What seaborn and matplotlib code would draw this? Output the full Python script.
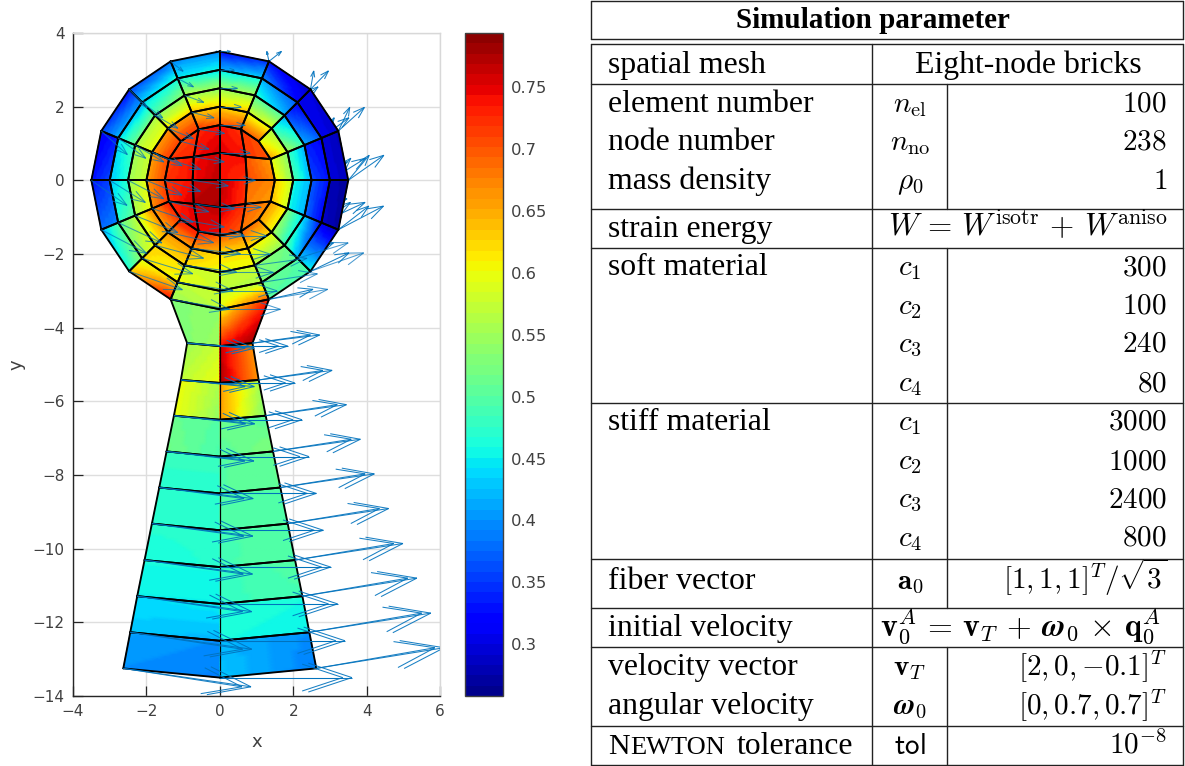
import numpy as np
import seaborn as sns
import matplotlib.pyplot as plt
from matplotlib.collections import LineCollection
from matplotlib.colors import ListedColormap, Normalize
from matplotlib.cm import ScalarMappable

# mesh outline
rim_x = [3.5, 3.23, 2.47, 1.34, 0, -1.34, -2.47, -3.23, -3.5, -3.23, -2.47, -1.34, 0, 1.34, 2.47, 3.23]
rim_y = [0, 1.34, 2.47, 3.23, 3.5, 3.23, 2.47, 1.34, 0, -1.34, -2.47, -3.23, -3.5, -3.23, -2.47, -1.34]
ring_radius = [1.5, 2, 2.5, 3, 3.5]
# E N W S NE NW SW SE
core_x = [0.74, 0, -0.74, 0, 0.70, -0.71, -0.71, 0.70]
core_y = [0, 0.75, 0, -0.73, 0.64, 0.64, -0.64, -0.64]
neck_left_x = [-0.89, -1.06, -1.25, -1.45, -1.65, -1.85, -2.05, -2.25, -2.44, -2.63]
neck_right_x = [0.89, 1.06, 1.25, 1.45, 1.65, 1.85, 2.05, 2.25, 2.44, 2.63]
neck_side_y = [-4.42, -5.42, -6.39, -7.36, -8.34, -9.32, -10.31, -11.29, -12.27, -13.25]
neck_mid_y = [-4.5, -5.5, -6.5, -7.5, -8.5, -9.5, -10.5, -11.5, -12.5, -13.5]

# node values per cell: inner k, inner k+1, outer k+1, outer k
ring0_vals = [(.62, .60, .54, .54), (.66, .60, .56, .58), (.70, .70, .60, .60), (.72, .70, .63, .62),
              (.70, .72, .63, .63), (.72, .72, .66, .66), (.71, .72, .66, .66), (.71, .71, .66, .66),
              (.71, .72, .67, .66), (.74, .72, .66, .66), (.74, .74, .66, .66), (.74, .70, .64, .66),
              (.70, .68, .63, .62), (.70, .68, .62, .62), (.66, .66, .60, .60), (.64, .63, .58, .58)]
ring1_vals = [(.50, .48, .42, .42), (.56, .47, .42, .48), (.60, .58, .50, .50), (.64, .62, .55, .55),
              (.63, .64, .56, .54), (.63, .62, .54, .54), (.60, .60, .56, .56), (.58, .58, .55, .55),
              (.60, .60, .56, .55), (.68, .66, .60, .57), (.66, .66, .62, .62), (.64, .62, .60, .62),
              (.62, .62, .60, .60), (.62, .60, .54, .56), (.56, .53, .44, .48), (.46, .46, .42, .42)]
ring2_vals = [(.36, .34, .32, .33), (.42, .36, .32, .37), (.42, .47, .42, .37), (.56, .55, .44, .46),
              (.56, .56, .47, .44), (.54, .50, .44, .46), (.52, .52, .44, .42), (.49, .47, .43, .44),
              (.47, .51, .47, .43), (.57, .60, .56, .50), (.62, .62, .60, .62), (.58, .58, .58, .60),
              (.58, .58, .56, .57), (.54, .52, .50, .53), (.50, .44, .33, .42), (.38, .37, .33, .32)]
ring3_vals = [(.30, .30, .28, .285), (.31, .31, .30, .29), (.32, .40, .33, .29), (.44, .42, .33, .35),
              (.46, .45, .40, .40), (.47, .44, .36, .38), (.41, .42, .36, .33), (.34, .36, .33, .31),
              (.36, .39, .38, .33), (.50, .54, .47, .42), (.59, .62, .74, .63), (.57, .58, .57, .55),
              (.58, .56, .70, .60), (.52, .50, .49, .50), (.43, .31, .28, .46), (.29, .28, .27, .27)]
# for each quadrant: middle, axis side, corner, next axis side
core_vals = [(.74, .72, .74, .74), (.71, .67, .66, .70), (.72, .70, .70, .72), (.75, .74, .72, .74),
             (.77, .76, .74, .74), (.76, .74, .73, .74), (.73, .72, .70, .72), (.74, .74, .71, .72),
             (.77, .76, .77, .78), (.74, .72, .72, .76), (.75, .72, .74, .75), (.77, .76, .75, .74),
             (.77, .76, .72, .72), (.76, .72, .70, .72), (.70, .68, .67, .67), (.69, .68, .66, .67)]
# neck rows: top outer, top middle, bottom middle, bottom outer
neck_left_vals = [(.53, .54, .55, .53), (.55, .58, .60, .57), (.60, .56, .54, .60), (.51, .50, .49, .52),
                  (.48, .48, .47, .47), (.47, .47, .47, .47), (.47, .47, .47, .46), (.46, .46, .45, .45),
                  (.44, .45, .42, .43), (.41, .40, .39, .40)]
neck_right_vals = [(.73, .60, .74, .78), (.66, .76, .78, .66), (.56, .66, .66, .53), (.50, .52, .50, .53),
                   (.51, .50, .50, .51), (.50, .50, .50, .50), (.50, .49, .49, .50), (.50, .48, .48, .49),
                   (.46, .47, .46, .45), (.40, .42, .43, .39)]

# arrow lengths at the nodes, one list per ring
ring_du = [[.97, .86, .76, .70, .68, .70, .76, .86, .97, 1.08, 1.18, 1.24, 1.26, 1.24, 1.18, 1.08],
           [.97, .82, .69, .61, .58, .61, .69, .82, .97, 1.12, 1.24, 1.33, 1.36, 1.33, 1.24, 1.12],
           [.97, .78, .62, .52, .48, .52, .62, .78, .97, 1.16, 1.32, 1.42, 1.46, 1.42, 1.32, 1.16],
           [.97, .75, .56, .43, .39, .43, .56, .75, .97, 1.19, 1.38, 1.51, 1.56, 1.51, 1.38, 1.19],
           [.97, .71, .49, .34, .29, .34, .49, .71, .97, 1.23, 1.45, 1.60, 1.65, 1.60, 1.45, 1.23]]
ring_dv = [[.30, .28, .21, .11, 0, -.11, -.21, -.28, -.30, -.28, -.21, -.11, 0, .11, .21, .28],
           [.40, .37, .28, .15, 0, -.15, -.28, -.37, -.40, -.37, -.28, -.15, 0, .15, .28, .37],
           [.50, .46, .35, .19, 0, -.19, -.35, -.46, -.50, -.46, -.35, -.19, 0, .19, .35, .46],
           [.60, .55, .42, .23, 0, -.23, -.42, -.55, -.60, -.55, -.42, -.23, 0, .23, .42, .55],
           [.68, .64, .50, .27, 0, -.27, -.50, -.64, -.68, -.64, -.50, -.27, 0, .27, .50, .64]]
core_du = [.97, .82, .97, 1.12, .83, .83, 1.11, 1.11]
core_dv = [.15, 0, -.15, 0, .14, -.14, -.14, .14]
centre_du, centre_dv = .97, 0
neck_side_du = [1.83, 2.0, 2.2, 2.38, 2.56, 2.75, 2.94, 3.12, 3.31, 3.48]
neck_mid_du = [1.85, 2.04, 2.24, 2.43, 2.63, 2.82, 3.02, 3.21, 3.41, 3.60]
neck_left_dv = [-.14, -.18, -.22, -.26, -.30, -.34, -.38, -.42, -.46, -.50]
neck_right_dv = [.22, .26, .30, .33, .37, .41, .45, .49, .52, .56]
head_layer_gap = 0.40
neck_layer_gap = 0.25

cbar_ticks = [0.3, 0.35, 0.4, 0.45, 0.5, 0.55, 0.6, 0.65, 0.7, 0.75]
cbar_labels = ['0.3', '0.35', '0.4', '0.45', '0.5', '0.55', '0.6', '0.65', '0.7', '0.75']
vmin, vmax = 0.258, 0.794

# table contents: label, symbol, value, baseline in pixels
table_rows = [
    ('spatial mesh', None, None, 73),
    ('element number', r'$n_{\mathrm{el}}$', '$100$', 112),
    ('node number', r'$n_{\mathrm{no}}$', '$238$', 150),
    ('mass density', r'$\rho_0$', '$1$', 189),
    ('strain energy', None, None, 237),
    ('soft material', '$c_1$', '$300$', 275),
    ('', '$c_2$', '$100$', 314),
    ('', '$c_3$', '$240$', 352),
    ('', '$c_4$', '$80$', 391),
    ('stiff material', '$c_1$', '$3000$', 430),
    ('', '$c_2$', '$1000$', 469),
    ('', '$c_3$', '$2400$', 507),
    ('', '$c_4$', '$800$', 546),
    ('fiber vector', r'$\mathbf{a}_0$', r'$[1,1,1]^T/\sqrt{3}$', 589),
    ('initial velocity', None, None, 636),
    ('velocity vector', r'$\mathbf{v}_T$', r'$[2,0,{-}0.1]^T$', 675),
    ('angular velocity', r'$\boldsymbol{\omega}_0$', r'$[0,0.7,0.7]^T$', 714),
]
merged_cells = [('Eight-node bricks', 1028, 73, 22.9),
                (r'$W\,=\,W^{\mathrm{isotr}}\,+\,W^{\mathrm{aniso}}$', 1028, 237, 22.5),
                (r'$\mathbf{v}_0^A\,=\,\mathbf{v}_T\,+\,\boldsymbol{\omega}_0\,\times\,\mathbf{q}_0^A$', 1021, 636, 23)]
rule_y = [1, 39, 44, 84, 209, 248, 403, 559, 608, 647, 726, 765]
split_spans = [(84, 209), (248, 608), (647, 765)]

sns.set_theme(style='whitegrid')
plt.rcParams['font.family'] = ['DejaVu Sans']
plt.rcParams['mathtext.fontset'] = 'cm'
SERIF = ['Liberation Serif', 'DejaVu Serif']
TXT = '#404040'
jet64 = ListedColormap(sns.mpl_palette('jet', 64))
norm = Normalize(vmin, vmax)

fig = plt.figure(figsize=(11.85, 7.66), dpi=100, facecolor='white')
ax = fig.add_axes([73 / 1185, 70 / 766, 367 / 1185, 663 / 766])
cax = fig.add_axes([465 / 1185, 70 / 766, 38 / 1185, 663 / 766])
tab = fig.add_axes([0, 0, 1, 1])
tab.set_xlim(0, 1185)
tab.set_ylim(766, 0)
tab.axis('off')
tab.patch.set_alpha(0)


def draw_cell(xs, ys, vals, thin_edge=None):
    # bilinear patch so the colours run through the colormap, not straight RGB
    s, t = np.meshgrid(np.linspace(0, 1, 13), np.linspace(0, 1, 13))
    w = [(1 - s) * (1 - t), s * (1 - t), s * t, (1 - s) * t]
    X = sum(w[i] * xs[i] for i in range(4))
    Y = sum(w[i] * ys[i] for i in range(4))
    C = sum(w[i] * vals[i] for i in range(4))
    ax.pcolormesh(X, Y, C, shading='gouraud', cmap=jet64, norm=norm, zorder=2)
    for i in range(4):
        j = (i + 1) % 4
        lw = 0.8 if i == thin_edge else 1.35
        ax.plot([xs[i], xs[j]], [ys[i], ys[j]], color='black', lw=lw, zorder=2.5,
                solid_capstyle='round')


rx = [[x * r / 3.5 for x in rim_x] for r in ring_radius]
ry = [[y * r / 3.5 for y in rim_y] for r in ring_radius]

ring_vals = [ring0_vals, ring1_vals, ring2_vals, ring3_vals]
for r in range(4):
    for k in range(16):
        n = (k + 1) % 16
        draw_cell([rx[r][k], rx[r][n], rx[r + 1][n], rx[r + 1][k]],
                  [ry[r][k], ry[r][n], ry[r + 1][n], ry[r + 1][k]], ring_vals[r][k])

for q in range(4):
    a0 = (core_x[q], core_y[q])
    a1 = (core_x[(q + 1) % 4], core_y[(q + 1) % 4])
    d = (core_x[4 + q], core_y[4 + q])
    ring_pts = [(rx[0][(4 * q + i) % 16], ry[0][(4 * q + i) % 16]) for i in range(5)]
    cells = [[(0, 0), a0, d, a1],
             [a0, ring_pts[0], ring_pts[1], d],
             [d, ring_pts[1], ring_pts[2], ring_pts[3]],
             [a1, d, ring_pts[3], ring_pts[4]]]
    for c, cell in enumerate(cells):
        draw_cell([p[0] for p in cell], [p[1] for p in cell], core_vals[4 * q + c])

top_left = (rim_x[11], rim_y[11])
top_mid = (rim_x[12], rim_y[12])
top_right = (rim_x[13], rim_y[13])
for i in range(10):
    bl = (neck_left_x[i], neck_side_y[i])
    bm = (0, neck_mid_y[i])
    br = (neck_right_x[i], neck_side_y[i])
    for cell, vals in (([top_left, top_mid, bm, bl], neck_left_vals[i]),
                       ([top_right, top_mid, bm, br], neck_right_vals[i])):
        draw_cell([p[0] for p in cell], [p[1] for p in cell], vals, thin_edge=1)
    top_left, top_mid, top_right = bl, bm, br

# arrow tails and lengths
tails = [(0, 0, centre_du, centre_dv, head_layer_gap, True)]
for r in range(5):
    for k in range(16):
        tails.append((rx[r][k], ry[r][k], ring_du[r][k], ring_dv[r][k], head_layer_gap, True))
for i in range(8):
    tails.append((core_x[i], core_y[i], core_du[i], core_dv[i], head_layer_gap, True))
for i in range(10):
    tails.append((neck_left_x[i], neck_side_y[i], neck_side_du[i], neck_left_dv[i], neck_layer_gap, False))
    tails.append((0, neck_mid_y[i], neck_mid_du[i], 0, neck_layer_gap, False))
    tails.append((neck_right_x[i], neck_side_y[i], neck_side_du[i], neck_right_dv[i], neck_layer_gap, False))

back, head_front, neck_front = [], [], []
for x, y, du, dv, gap, in_head in tails:
    for layer, u in enumerate((du, du - gap)):
        a, b = 0.33, 0.33
        tip = (x + u, y + dv)
        segs = [[(x, y), tip],
                [(x + u - a * (u + b * dv), y + dv - a * (dv - b * u)), tip],
                [(x + u - a * (u - b * dv), y + dv - a * (dv + b * u)), tip]]
        # the head hides the rear layer and its own upper right part
        if in_head and (layer == 1 or (x > 0 and y > -2)):
            back.extend(segs)
        elif in_head:
            head_front.extend(segs)
        else:
            neck_front.extend(segs)
ax.add_collection(LineCollection(back, colors='#0072BD', linewidths=0.75, alpha=0.9, zorder=1.5))
ax.add_collection(LineCollection(head_front, colors='#0072BD', linewidths=0.75, alpha=0.7, zorder=3))
ax.add_collection(LineCollection(neck_front, colors='#0072BD', linewidths=0.75, alpha=0.9, zorder=3))

ax.set_xlim(-4, 6)
ax.set_ylim(-14, 4)
ax.set_xticks(range(-4, 7, 2))
ax.set_yticks(range(-14, 5, 2))
ax.set_xlabel('x', fontsize=13, color=TXT, labelpad=10)
ax.set_ylabel('y', fontsize=13, color=TXT, labelpad=5)
ax.set_facecolor('white')
ax.grid(True, color='#dedede', lw=1.0)
ax.set_axisbelow(True)
ax.tick_params(axis='both', direction='in', length=7, width=0.9, color='#262626', labelcolor=TXT,
               labelsize=11, pad=6, left=True, bottom=True)
for side in ('left', 'bottom'):
    ax.spines[side].set_color('#262626')
    ax.spines[side].set_linewidth(1.0)
for side in ('top', 'right'):
    ax.spines[side].set_color('#d8d8d8')
    ax.spines[side].set_linewidth(1.0)

cb = fig.colorbar(ScalarMappable(norm=norm, cmap=jet64), cax=cax)
cb.set_ticks(cbar_ticks)
cb.set_ticklabels(cbar_labels)
cax.tick_params(axis='y', direction='in', length=7, width=0.9, color='#262626', labelcolor=TXT,
                labelsize=11.8, pad=6, right=True)
cax.grid(False)
cb.outline.set_edgecolor('#404040')
cb.outline.set_linewidth(1.0)

# table
for y in rule_y:
    tab.plot([591, 1183], [y, y], color='#222222', lw=1.0)
tab.plot([591, 591], [1, 39], color='#222222', lw=1.0)
tab.plot([1183, 1183], [1, 39], color='#222222', lw=1.0)
for x in (591, 872, 1183):
    tab.plot([x, x], [44, 765], color='#222222', lw=1.0)
for y0, y1 in split_spans:
    tab.plot([947, 947], [y0, y1], color='#222222', lw=1.0)

FS = 21
LABEL_FS = 22.9
tab.text(873, 28, 'Simulation parameter', family=SERIF, fontsize=FS, weight='bold', ha='center',
         va='baseline', color='black')
for label, sym, val, base in table_rows:
    if label:
        tab.text(608, base, label, family=SERIF, fontsize=LABEL_FS, va='baseline', color='black')
    if sym:
        tab.text(910, base, sym, fontsize=FS, ha='center', va='baseline', color='black')
    if val:
        tab.text(1167, base, val, fontsize=FS, ha='right', va='baseline', color='black')
for val, cx, base, size in merged_cells:
    tab.text(cx, base, val, family=SERIF, fontsize=size, ha='center', va='baseline', color='black')

tab.text(608, 754, 'N', family=SERIF, fontsize=21.5, va='baseline', color='black')
tab.text(630, 754, 'EWTON', family=SERIF, fontsize=19, va='baseline', color='black')
tab.text(737, 754, 'tolerance', family=SERIF, fontsize=LABEL_FS, va='baseline', color='black')
tab.text(910, 754, r'$\mathsf{tol}$', fontsize=FS, ha='center', va='baseline', color='black')
tab.text(1167, 754, '$10^{-8}$', fontsize=FS, ha='right', va='baseline', color='black')

fig.savefig('out.png', dpi=100)
